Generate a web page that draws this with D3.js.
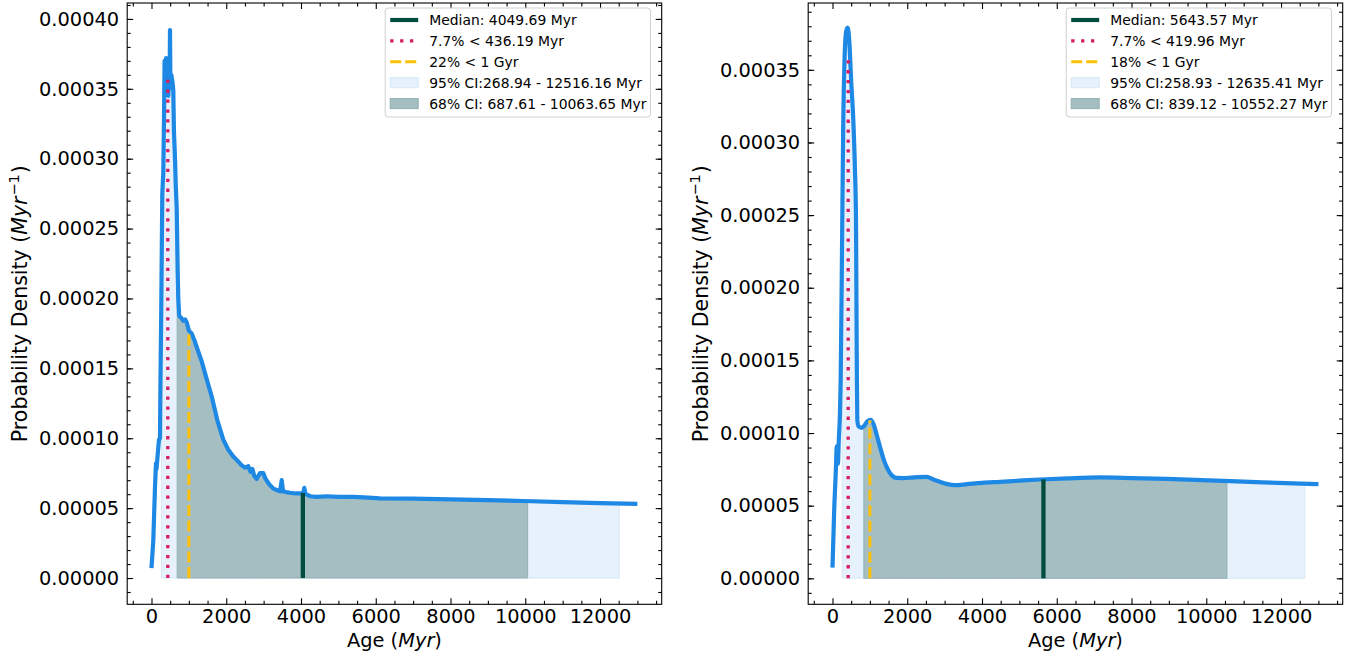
<!DOCTYPE html>
<html>
<head>
<meta charset="utf-8">
<script src="https://cdn.jsdelivr.net/npm/d3@7"></script>
<style>
  body { margin: 0; background: #fff; }
  svg { font-family: "DejaVu Sans", sans-serif; }
</style>
</head>
<body>
<svg id="chart" width="1363" height="658"></svg>
<script>
// ---- data (density in units of 1e-5 Myr^-1) ----
const ageLeft = [0, 48, 94, 120, 134, 150, 200, 227, 240, 260, 289, 316, 335, 350, 370, 390, 410, 430, 450, 470, 485, 495, 505, 530, 560, 583, 600, 629, 650, 674, 700, 717, 740, 762, 800, 850, 900, 942, 1000, 1075, 1150, 1200, 1343, 1480, 1610, 1760, 1921, 2050, 2189, 2300, 2400, 2500, 2590, 2650, 2700, 2750, 2814, 2900, 2992, 3050, 3150, 3259, 3350, 3440, 3483, 3520, 3600, 3705, 3850, 4018, 4060, 4088, 4120, 4250, 4419, 4700, 5000, 5399, 5800, 6113, 7000, 8000, 9000, 9947, 11000, 12000, 13000];
const densLeft = [0.7, 2.7, 6.5, 8.2, 7.8, 8.3, 9.9, 10.0, 14, 19, 27.5, 29, 33, 37, 35.5, 37.2, 35, 37, 34.5, 36.5, 35, 39.2, 35.5, 36, 35.5, 34.9, 32, 30, 28, 26.5, 22, 20, 18.8, 18.7, 18.6, 18.4, 18.5, 18.3, 17.7, 17.5, 17, 16.6, 15.5, 14.2, 13, 11.3, 9.9, 9.2, 8.7, 8.4, 8.1, 7.9, 8.0, 7.6, 7.8, 7.3, 7.1, 7.5, 7.5, 7.1, 6.7, 6.4, 6.3, 6.2, 7.0, 6.2, 6.15, 6.1, 6.05, 6.06, 6.1, 6.45, 6.0, 5.85, 5.8, 5.85, 5.8, 5.8, 5.75, 5.7, 5.68, 5.62, 5.57, 5.51, 5.43, 5.36, 5.3].map((v) => v * 1e-5);

const ageRight = [0, 48, 94, 112, 125, 130, 145, 170, 200, 219, 262, 289, 320, 350, 380, 406, 430, 460, 500, 556, 600, 629, 640, 652, 664, 700, 781, 850, 930, 1022, 1100, 1180, 1270, 1380, 1493, 1600, 1717, 1900, 2100, 2300, 2520, 2700, 2875, 3050, 3277, 3600, 4000, 4481, 5000, 5551, 6300, 7165, 8000, 8949, 10464, 11500, 13000];
const densRight = [0.74, 4.9, 7.7, 9.05, 9.1, 7.9, 7.9, 9.6, 11.35, 13.6, 24.7, 31.6, 35.5, 37.3, 37.8, 37.9, 37.6, 36.5, 34.2, 31.6, 28.2, 24.7, 19.5, 14.0, 10.9, 10.45, 10.36, 10.5, 10.8, 10.9, 10.6, 9.9, 9.05, 8.1, 7.44, 7.05, 6.91, 6.9, 6.93, 6.97, 6.98, 6.8, 6.64, 6.5, 6.41, 6.48, 6.57, 6.64, 6.72, 6.8, 6.88, 6.94, 6.9, 6.84, 6.7, 6.6, 6.48].map((v) => v * 1e-5);

// summary statistics (Myr)
const medians = [4049.69, 5643.57];
const lowPct = [436.19, 419.96];
const lowTop = [0.000359, 0.000359]; // where the dotted marker stops
const oneGyr = [1000, 1000];
const ci95 = [[268.94, 12516.16], [258.93, 12635.41]];
const ci68 = [[687.61, 10063.65], [839.12, 10552.27]];

const legendLeft = ["Median: 4049.69 Myr", "7.7% < 436.19 Myr", "22% < 1 Gyr", "95% CI:268.94 - 12516.16 Myr", "68% CI: 687.61 - 10063.65 Myr"];
const legendRight = ["Median: 5643.57 Myr", "7.7% < 419.96 Myr", "18% < 1 Gyr", "95% CI:258.93 - 12635.41 Myr", "68% CI: 839.12 - 10552.27 Myr"];

const xTicks = [0, 2000, 4000, 6000, 8000, 10000, 12000];
const yTicksLeft = [0, 0.00005, 0.0001, 0.00015, 0.0002, 0.00025, 0.0003, 0.00035, 0.0004];
const yTicksRight = [0, 0.00005, 0.0001, 0.00015, 0.0002, 0.00025, 0.0003, 0.00035];

// ---- styling ----
const colors = {
  line: "#1e88e5",
  median: "#004d40",
  low: "#d81b60",
  gyr: "#ffc107",
  fill95: "#e6f1fc",
  edge95: "#d6e7f8",
  fill68: "#a4bec1",
  edge68: "#92b0b2",
};

const svg = d3.select("#chart");
const plotTop = 3;
const plotBottom = 604.3;
const plotW = 534.5;

const interp = (xs, ys, v) => {
  const i = d3.bisectLeft(xs, v);
  if (i <= 0) return ys[0];
  if (i >= xs.length) return ys[ys.length - 1];
  const t = (v - xs[i - 1]) / (xs[i] - xs[i - 1]);
  return ys[i - 1] + t * (ys[i] - ys[i - 1]);
};

function drawPanel(p) {
  const { id, x0, yDomain, ages, dens, yTicks, k, labels, curve } = p;
  const x = d3.scaleLinear().domain([-650, 13650]).range([x0, x0 + plotW]);
  const y = d3.scaleLinear().domain(yDomain).range([plotBottom, plotTop]);
  const pts = ages.map((a, i) => [a, dens[i]]);
  const g = svg.append("g");

  const area = d3.area().curve(curve).x((d) => x(d[0])).y0(y(0)).y1((d) => y(d[1]));
  const line = d3.line().curve(curve).x((d) => x(d[0])).y((d) => y(d[1]));

  // credible interval fills under the curve
  [[ci95[k], colors.fill95, colors.edge95, "c95"], [ci68[k], colors.fill68, colors.edge68, "c68"]].forEach(([ci, fill, edge, name]) => {
    const cid = `${name}-${id}`;
    g.append("clipPath")
      .attr("id", cid)
      .append("rect")
      .attr("x", x(ci[0]))
      .attr("y", 0)
      .attr("width", x(ci[1]) - x(ci[0]))
      .attr("height", 658);
    g.append("path")
      .datum(pts)
      .attr("clip-path", `url(#${cid})`)
      .attr("fill", fill)
      .attr("stroke", edge)
      .attr("stroke-width", 1)
      .attr("d", area);
    ci.forEach((v) => {
      g.append("line")
        .attr("x1", x(v)).attr("x2", x(v))
        .attr("y1", y(0)).attr("y2", y(interp(ages, dens, v)))
        .attr("stroke", edge)
        .attr("stroke-width", 1);
    });
  });

  // density curve
  g.append("path")
    .datum(pts)
    .attr("fill", "none")
    .attr("stroke", colors.line)
    .attr("stroke-width", 4.2)
    .attr("stroke-linejoin", "round")
    .attr("d", line);

  // vertical markers
  const vline = (v, h, color, w, dash) => {
    g.append("line")
      .attr("x1", x(v)).attr("x2", x(v))
      .attr("y1", y(0)).attr("y2", y(h))
      .attr("stroke", color)
      .attr("stroke-width", w)
      .attr("stroke-dasharray", dash);
  };
  vline(lowPct[k], Math.min(lowTop[k], interp(ages, dens, lowPct[k])), colors.low, 3.3, "3.3,6.6");
  vline(oneGyr[k], interp(ages, dens, oneGyr[k]), colors.gyr, 3, "11,4.5");
  vline(medians[k], interp(ages, dens, medians[k]), colors.median, 4.3, null);

  // frame
  g.append("rect")
    .attr("x", x0).attr("y", plotTop)
    .attr("width", plotW).attr("height", plotBottom - plotTop)
    .attr("fill", "none")
    .attr("stroke", "#000")
    .attr("stroke-width", 1.1);

  const xMinor = d3.range(-500, 13650, 500).filter((v) => v % 2000 !== 0);
  const yMinor = d3.range(-1, 42).map((v) => v * 1e-5).filter((v) => v > yDomain[0] && v < yDomain[1]);

  const styleAxis = (sel, labelled) => {
    sel.select(".domain").remove();
    sel.selectAll("line").attr("stroke", "#000").attr("stroke-width", 1.1);
    sel.selectAll("text")
      .attr("font-size", labelled ? 19.4 : 0)
      .attr("font-family", "DejaVu Sans")
      .attr("fill", "#000");
  };

  g.append("g")
    .attr("transform", `translate(0,${plotBottom})`)
    .call(d3.axisBottom(x).tickValues(xTicks).tickFormat(d3.format("d")).tickSizeInner(-6).tickSizeOuter(0).tickPadding(5))
    .call((s) => styleAxis(s, true));
  g.append("g")
    .attr("transform", `translate(0,${plotBottom})`)
    .call(d3.axisBottom(x).tickValues(xMinor).tickFormat("").tickSizeInner(-3.5).tickSizeOuter(0))
    .call((s) => styleAxis(s, false));
  g.append("g")
    .attr("transform", `translate(0,${plotTop})`)
    .call(d3.axisTop(x).tickValues(xTicks).tickFormat("").tickSizeInner(-6).tickSizeOuter(0))
    .call((s) => styleAxis(s, false));
  g.append("g")
    .attr("transform", `translate(0,${plotTop})`)
    .call(d3.axisTop(x).tickValues(xMinor).tickFormat("").tickSizeInner(-3.5).tickSizeOuter(0))
    .call((s) => styleAxis(s, false));

  g.append("g")
    .attr("transform", `translate(${x0},0)`)
    .call(d3.axisLeft(y).tickValues(yTicks).tickFormat(d3.format(".5f")).tickSizeInner(-6).tickSizeOuter(0).tickPadding(8))
    .call((s) => styleAxis(s, true));
  g.append("g")
    .attr("transform", `translate(${x0},0)`)
    .call(d3.axisLeft(y).tickValues(yMinor).tickFormat("").tickSizeInner(-3.5).tickSizeOuter(0))
    .call((s) => styleAxis(s, false));
  g.append("g")
    .attr("transform", `translate(${x0 + plotW},0)`)
    .call(d3.axisRight(y).tickValues(yTicks).tickFormat("").tickSizeInner(-6).tickSizeOuter(0))
    .call((s) => styleAxis(s, false));
  g.append("g")
    .attr("transform", `translate(${x0 + plotW},0)`)
    .call(d3.axisRight(y).tickValues(yMinor).tickFormat("").tickSizeInner(-3.5).tickSizeOuter(0))
    .call((s) => styleAxis(s, false));

  // axis labels
  const xl = g.append("text")
    .attr("x", x0 + plotW / 2)
    .attr("y", 647)
    .attr("text-anchor", "middle")
    .attr("font-size", 19.4);
  xl.append("tspan").text("Age (");
  xl.append("tspan").attr("font-style", "italic").text("Myr");
  xl.append("tspan").text(")");

  const yl = g.append("text")
    .attr("transform", `translate(${x0 - 100},${(plotTop + plotBottom) / 2}) rotate(-90)`)
    .attr("text-anchor", "middle")
    .attr("font-size", 20.5);
  yl.append("tspan").text("Probability Density (");
  yl.append("tspan").attr("font-style", "italic").text("Myr");
  yl.append("tspan").attr("font-size", 14.5).attr("dx", 1).attr("dy", -8.5).text("\u22121");
  yl.append("tspan").attr("dx", 1).attr("dy", 8.5).text(")");

  // legend
  const lg = g.append("g").attr("transform", `translate(${x0 + 258},8)`);
  const box = lg.append("rect")
    .attr("rx", 3)
    .attr("fill", "#fff")
    .attr("fill-opacity", 0.8)
    .attr("stroke", "#d0d0d0")
    .attr("stroke-width", 1);
  const rows = lg.selectAll(".row")
    .data(labels)
    .join("g")
    .attr("class", "row")
    .attr("transform", (d, i) => `translate(0,${12 + i * 20.9})`);
  const texts = rows.append("text")
    .attr("x", 44)
    .attr("dy", "0.36em")
    .attr("font-size", 13.9)
    .attr("fill", "#000")
    .text((d) => d);
  const handles = [
    (s) => s.append("line").attr("x1", 5).attr("x2", 33).attr("stroke", colors.median).attr("stroke-width", 4.2),
    (s) => s.append("line").attr("x1", 5).attr("x2", 33).attr("stroke", colors.low).attr("stroke-width", 3.3).attr("stroke-dasharray", "3.3,6.6"),
    (s) => s.append("line").attr("x1", 5).attr("x2", 33).attr("stroke", colors.gyr).attr("stroke-width", 3).attr("stroke-dasharray", "11,4"),
    (s) => s.append("rect").attr("x", 5).attr("y", -5).attr("width", 28).attr("height", 10).attr("fill", colors.fill95).attr("stroke", colors.edge95),
    (s) => s.append("rect").attr("x", 5).attr("y", -5).attr("width", 28).attr("height", 10).attr("fill", colors.fill68).attr("stroke", colors.edge68),
  ];
  rows.each(function (d, i) {
    handles[i](d3.select(this));
  });
  let maxW = 0;
  texts.each(function () {
    maxW = Math.max(maxW, this.getComputedTextLength());
  });
  box.attr("x", 0).attr("y", 0).attr("width", 44 + maxW + 4).attr("height", 109);
}

drawPanel({
  id: "L",
  x0: 127.2,
  yDomain: [-0.0000188, 0.0004114],
  ages: ageLeft,
  dens: densLeft,
  yTicks: yTicksLeft,
  k: 0,
  labels: legendLeft,
  curve: d3.curveLinear,
});

drawPanel({
  id: "R",
  x0: 808.2,
  yDomain: [-0.0000179, 0.000396],
  ages: ageRight,
  dens: densRight,
  yTicks: yTicksRight,
  k: 1,
  labels: legendRight,
  curve: d3.curveMonotoneX,
});
</script>
</body>
</html>
